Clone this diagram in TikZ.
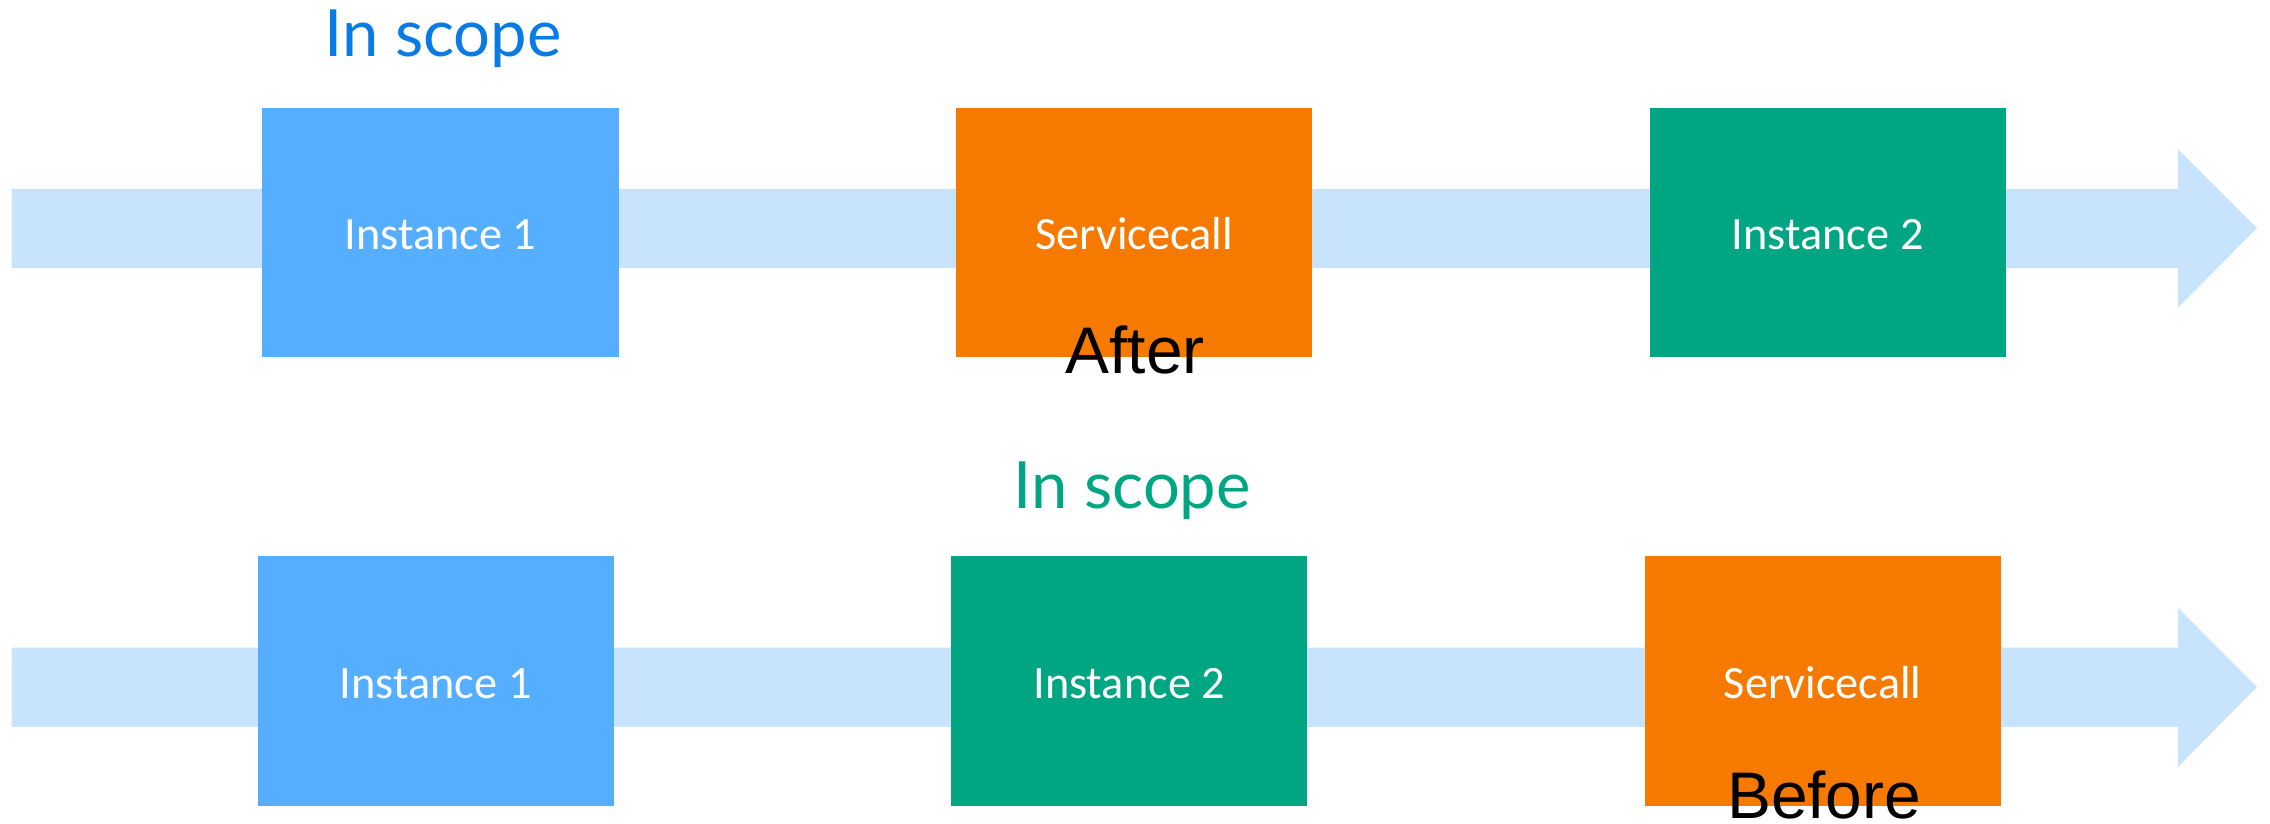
\documentclass[tikz,border=0pt]{standalone}
\usepackage{fontspec}
\setmainfont{Carlito}
\newfontfamily\scopefont{Lato}
\newfontfamily\tagfont{Liberation Sans}
\definecolor{boxblue}{RGB}{85,174,255}
\definecolor{boxorange}{RGB}{247,122,0}
\definecolor{boxgreen}{RGB}{0,165,130}
\definecolor{bandblue}{RGB}{199,228,252}
\definecolor{scopeblue}{RGB}{8,123,228}
\definecolor{scopegreen}{RGB}{0,165,130}
\tikzset{
  stagebox/.style={rectangle, inner sep=0pt, outer sep=0pt, minimum width=246pt, minimum height=172.5pt,
    text height=24pt, text depth=0pt,
    text=white, font=\fontsize{32}{38}\selectfont},
  scopelabel/.style={anchor=base, inner sep=0pt, font=\scopefont\fontsize{45}{54}\selectfont},
  taglabel/.style={anchor=base, inner sep=0pt, text=black, font=\tagfont\fontsize{45.5}{54}\selectfont},
  band/.style={fill=bandblue, draw=none}
}
\begin{document}
\begin{tikzpicture}[x=1pt,y=-1pt]
\useasboundingbox (0,0) rectangle (1568,568.5);
% top arrow
\coordinate (a1t) at (1559,157.5);
\fill[band] (8,130.5) -- (1504.5,130.5) -- (1504.5,103) -- (a1t) -- (1504.5,212.5) -- (1504.5,185) -- (8,185) -- cycle;
% bottom arrow
\coordinate (a2t) at (1559,474.6);
\fill[band] (8,447.4) -- (1504.5,447.4) -- (1504.5,420) -- (a2t) -- (1504.5,529.6) -- (1504.5,502) -- (8,502) -- cycle;
% top row
\node[stagebox, fill=boxblue]   (t1) at (304.3,160.6) {Instance 1};
\node[stagebox, fill=boxorange] (t2) at (783.5,160.6) {Servicecall};
\node[stagebox, fill=boxgreen]  (t3) at (1262.5,160.6) {Instance 2};
% bottom row
\node[stagebox, fill=boxblue]   (b1) at (301,470.3) {Instance 1};
\node[stagebox, fill=boxgreen]  (b2) at (780,470.3) {Instance 2};
\node[stagebox, fill=boxorange] (b3) at (1259,470.3) {Servicecall};
% labels
\node[scopelabel, text=scopeblue]  (s1) at (306,39.1) {In scope};
\node[scopelabel, text=scopegreen] (s2) at (782,351) {In scope};
\node[taglabel] (after) at (784,258.3) {After};
\node[taglabel] (before) at (1260,565.3) {Before};
\end{tikzpicture}
\end{document}
